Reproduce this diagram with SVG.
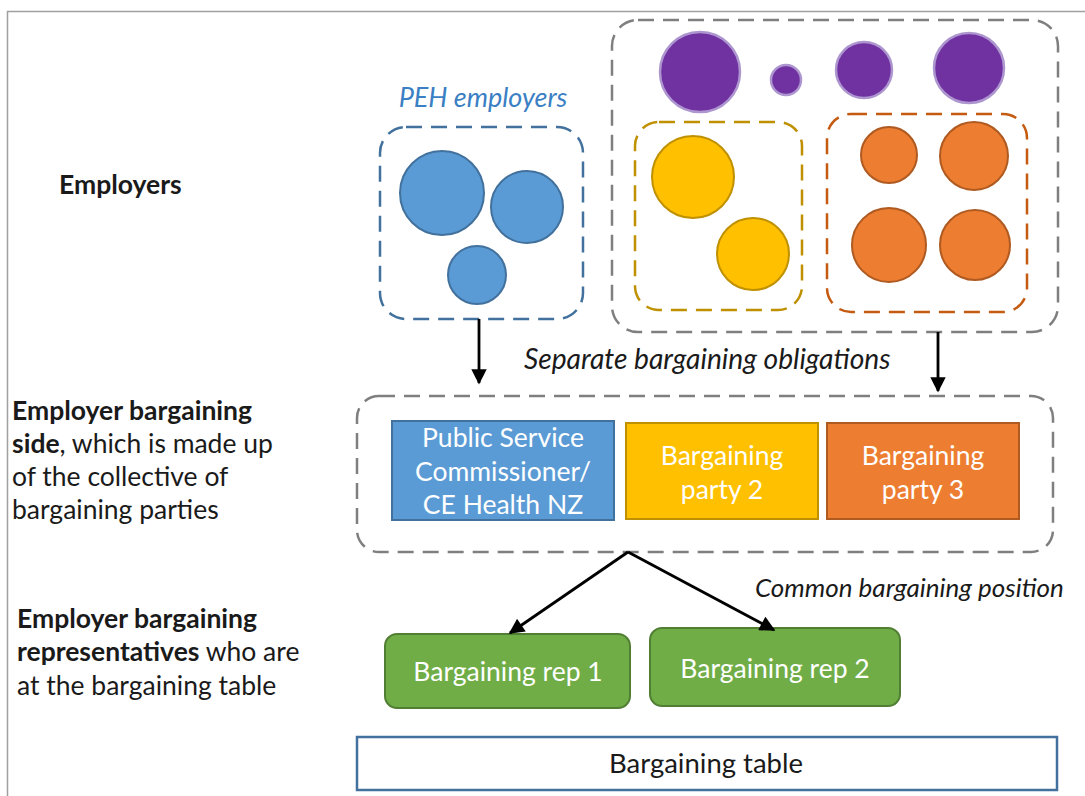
<svg xmlns="http://www.w3.org/2000/svg" width="1085" height="796" viewBox="0 0 1085 796">
  <defs>
    <style>
      text { font-family: Lato, "Open Sans", "Liberation Sans", sans-serif; }
      .lbl { font-size: 26.5px; fill: #1a1a1a; }
      .b { font-weight: bold; }
      .it { font-style: italic; font-size: 28.2px; fill: #1a1a1a; }
      .it-sm { font-style: italic; font-size: 26px; fill: #1a1a1a; }
      .wt { font-size: 26.5px; fill: #ffffff; text-anchor: middle; }
      .dash-gray { fill: none; stroke: #7f7f7f; stroke-width: 2.5; stroke-dasharray: 16 9; }
      .dash-blue { fill: none; stroke: #41719c; stroke-width: 2.5; stroke-dasharray: 16 9; }
      .dash-yel { fill: none; stroke: #bf9000; stroke-width: 2.5; stroke-dasharray: 16 9; }
      .dash-org { fill: none; stroke: #c55a11; stroke-width: 2.5; stroke-dasharray: 16 9; }
      .c-blue { fill: #5b9bd5; stroke: #41719c; stroke-width: 2; }
      .c-pur { fill: #7030a0; stroke: #ad96cf; stroke-width: 2.5; }
      .c-yel { fill: #ffc000; stroke: #bf9000; stroke-width: 2; }
      .c-org { fill: #ed7d31; stroke: #ae5a21; stroke-width: 2; }
      .arrow { fill: none; stroke: #000; stroke-width: 2.8; marker-end: url(#head); }
    </style>
    <marker id="head" viewBox="0 0 10 10" refX="9" refY="5" markerWidth="6" markerHeight="5.5" orient="auto" markerUnits="strokeWidth">
      <path d="M0,0 L10,5 L0,10 z" fill="#000"/>
    </marker>
    <filter id="soft" x="-20%" y="-20%" width="140%" height="140%">
      <feGaussianBlur stdDeviation="0.5"/>
    </filter>
  </defs>

  <rect width="1085" height="796" fill="#ffffff"/>
  <!-- frame -->
  <path d="M7.5,796 V11.5 H1085" fill="none" stroke="#a0a0a0" stroke-width="1.5"/>

  <!-- left-hand row labels -->
  <g id="label-employers">
    <text class="lbl b" x="59" y="194">Employers</text>
  </g>
  <g id="label-bargaining-side">
    <text class="lbl" x="12" y="420"><tspan class="b">Employer bargaining</tspan></text>
    <text class="lbl" x="12" y="453"><tspan class="b">side</tspan>, which is made up</text>
    <text class="lbl" x="12" y="486">of the collective of</text>
    <text class="lbl" x="12" y="519">bargaining parties</text>
  </g>
  <g id="label-representatives">
    <text class="lbl" x="17" y="628"><tspan class="b">Employer bargaining</tspan></text>
    <text class="lbl" x="17" y="661"><tspan class="b">representatives</tspan> who are</text>
    <text class="lbl" x="17" y="695">at the bargaining table</text>
  </g>

  <!-- PEH employers group -->
  <g id="peh-employers">
    <text x="483" y="107" text-anchor="middle" font-size="27" font-style="italic" fill="#3b7fc4">PEH employers</text>
    <rect class="dash-blue" x="380" y="127" width="203" height="192" rx="26"/>
    <circle class="c-blue" cx="442" cy="193" r="42"/>
    <circle class="c-blue" cx="527" cy="207" r="36"/>
    <circle class="c-blue" cx="477" cy="275" r="29"/>
  </g>

  <!-- other employers group -->
  <g id="other-employers">
    <rect class="dash-gray" x="612" y="20" width="446" height="312" rx="26"/>
    <g filter="url(#soft)">
      <circle class="c-pur" cx="700" cy="72" r="40"/>
      <circle class="c-pur" cx="786" cy="80" r="15"/>
      <circle class="c-pur" cx="864" cy="70" r="28"/>
      <circle class="c-pur" cx="969" cy="68" r="35"/>
    </g>
  </g>
  <g id="party2-employers">
    <rect class="dash-yel" x="635" y="122" width="167" height="188" rx="24"/>
    <circle class="c-yel" cx="693" cy="177" r="41"/>
    <circle class="c-yel" cx="753" cy="254" r="36"/>
  </g>
  <g id="party3-employers">
    <rect class="dash-org" x="827" y="114" width="200" height="198" rx="24"/>
    <circle class="c-org" cx="889" cy="155" r="28"/>
    <circle class="c-org" cx="974" cy="156" r="34"/>
    <circle class="c-org" cx="889" cy="245" r="37"/>
    <circle class="c-org" cx="975" cy="245" r="35"/>
  </g>

  <!-- employer bargaining side -->
  <g id="bargaining-side">
    <rect class="dash-gray" x="357" y="396" width="696" height="156" rx="22"/>
  </g>
  <g id="party-psc">
    <rect x="392" y="421" width="222" height="99" fill="#5b9bd5" stroke="#41719c" stroke-width="2"/>
    <text class="wt" x="503" y="447">Public Service</text>
    <text class="wt" x="503" y="481">Commissioner/</text>
    <text class="wt" x="503" y="514">CE Health NZ</text>
  </g>
  <g id="party-2">
    <rect x="626" y="423" width="192" height="96" fill="#ffc000" stroke="#bf9000" stroke-width="2"/>
    <text class="wt" x="722" y="465">Bargaining</text>
    <text class="wt" x="722" y="499">party 2</text>
  </g>
  <g id="party-3">
    <rect x="827" y="423" width="192" height="96" fill="#ed7d31" stroke="#ae5a21" stroke-width="2"/>
    <text class="wt" x="923" y="465">Bargaining</text>
    <text class="wt" x="923" y="499">party 3</text>
  </g>

  <!-- bargaining representatives -->
  <g id="rep-1">
    <rect x="385" y="634" width="245" height="74" rx="12" fill="#70ad47" stroke="#507e32" stroke-width="2"/>
    <text class="wt" x="508" y="681">Bargaining rep 1</text>
  </g>
  <g id="rep-2">
    <rect x="650" y="628" width="250" height="78" rx="12" fill="#70ad47" stroke="#507e32" stroke-width="2"/>
    <text class="wt" x="775" y="678">Bargaining rep 2</text>
  </g>

  <!-- bargaining table -->
  <g id="bargaining-table">
    <rect x="357" y="737" width="700" height="53" fill="#ffffff" stroke="#41719c" stroke-width="2.5"/>
    <text x="706" y="773" text-anchor="middle" font-size="27.5" fill="#1a1a1a">Bargaining table</text>
  </g>

  <!-- connectors and their labels -->
  <g id="connectors">
    <line class="arrow" x1="479" y1="319" x2="479" y2="383"/>
    <line class="arrow" x1="938" y1="332" x2="938" y2="391"/>
    <line class="arrow" x1="628" y1="552" x2="510" y2="633"/>
    <line class="arrow" x1="628" y1="552" x2="774" y2="630"/>
    <text class="it-sm" x="755" y="597">Common bargaining position</text>
    <text class="it" x="524" y="369">Separate bargaining obligations</text>
  </g>
</svg>
